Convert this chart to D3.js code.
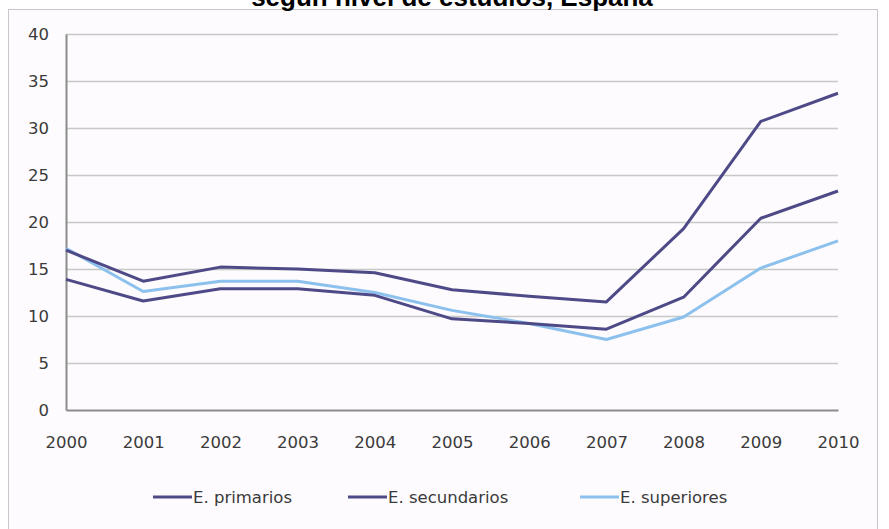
<!DOCTYPE html>
<html>
<head>
<meta charset="utf-8">
<script src="https://cdnjs.cloudflare.com/ajax/libs/d3/7.8.5/d3.min.js"></script>
<style>
  html, body { margin: 0; padding: 0; background: #ffffff; }
  svg { display: block; }
</style>
</head>
<body>
<svg id="chart" width="889" height="529"></svg>
<script>
// Tasa de paro según nivel de estudios, España (2000–2010)
const years = [2000, 2001, 2002, 2003, 2004, 2005, 2006, 2007, 2008, 2009, 2010];
const primarios   = [17.0, 13.7, 15.2, 15.0, 14.6, 12.8, 12.1, 11.5, 19.3, 30.7, 33.7];
const secundarios = [13.9, 11.6, 12.9, 12.9, 12.2, 9.7, 9.2, 8.6, 12.0, 20.4, 23.3];
const superiores  = [17.2, 12.6, 13.7, 13.7, 12.5, 10.6, 9.2, 7.5, 9.9, 15.1, 18.0];
const yTicks = [0, 5, 10, 15, 20, 25, 30, 35, 40];
const seriesNames = ["E. primarios", "E. secundarios", "E. superiores"];
const seriesColors = ["#4e4a87", "#4e4a87", "#8cc1ee"];
const titleText = "según nivel de estudios, España";

const series = [primarios, secundarios, superiores].map((vals, i) => ({
  name: seriesNames[i],
  color: seriesColors[i],
  values: vals.map((v, j) => ({ year: years[j], value: v }))
}));

const svg = d3.select("#chart");
const plot = { left: 66, right: 838, top: 34, bottom: 410 };

// chart frame
svg.append("rect")
  .attr("x", 8.5).attr("y", 9.5)
  .attr("width", 869).attr("height", 530)
  .attr("fill", "#fdfbfd")
  .attr("stroke", "#c9c7c9").attr("stroke-width", 1);

// title (runs off the top edge of the frame area)
svg.append("text")
  .attr("x", 452).attr("y", 6)
  .attr("text-anchor", "middle")
  .attr("font-family", "'Liberation Sans', Arial, sans-serif")
  .attr("font-weight", "bold")
  .attr("font-size", 26)
  .attr("fill", "#000")
  .text(titleText);

const x = d3.scalePoint().domain(years).range([plot.left, plot.right]);
const y = d3.scaleLinear().domain([0, 40]).range([plot.bottom, plot.top]);

// horizontal gridlines
svg.append("g")
  .selectAll("line")
  .data(yTicks.filter(t => t > 0))
  .join("line")
  .attr("x1", plot.left).attr("x2", plot.right)
  .attr("y1", d => y(d) + 0.5).attr("y2", d => y(d) + 0.5)
  .attr("stroke", "#c8c8c8").attr("stroke-width", 1.5);

const tickFont = "'DejaVu Sans', Verdana, sans-serif";

// y axis
const yAxis = svg.append("g")
  .attr("transform", `translate(${plot.left},0)`)
  .call(d3.axisLeft(y).tickValues(yTicks).tickSize(0).tickPadding(17));
yAxis.select(".domain").attr("stroke", "#8c8c8c").attr("stroke-width", 2);
yAxis.selectAll("text")
  .attr("font-family", tickFont).attr("font-size", 16.5).attr("fill", "#3a3a3a");

// x axis
const xAxis = svg.append("g")
  .attr("transform", `translate(0,${plot.bottom})`)
  .call(d3.axisBottom(x).tickSize(0).tickPadding(26).tickFormat(d3.format("d")));
xAxis.select(".domain").attr("stroke", "#8c8c8c").attr("stroke-width", 2);
xAxis.selectAll("text")
  .attr("font-family", tickFont).attr("font-size", 16.5).attr("fill", "#3a3a3a");

// series lines
const line = d3.line().x(d => x(d.year)).y(d => y(d.value));
svg.append("g")
  .selectAll("path")
  .data(series.slice().reverse())
  .join("path")
  .attr("d", d => line(d.values))
  .attr("fill", "none")
  .attr("stroke", d => d.color)
  .attr("stroke-width", 3)
  .attr("stroke-linejoin", "round");

// legend
const legendX = [153, 348, 580];
const legend = svg.append("g").attr("transform", "translate(0,497)");
const items = legend.selectAll("g").data(series).join("g")
  .attr("transform", (d, i) => `translate(${legendX[i]},0)`);
items.append("line")
  .attr("x1", 0).attr("x2", 39).attr("y1", 0).attr("y2", 0)
  .attr("stroke", d => d.color).attr("stroke-width", 3);
items.append("text")
  .attr("x", 40).attr("y", 0).attr("dy", "0.35em")
  .attr("font-family", tickFont).attr("font-size", 16.5).attr("fill", "#3a3a3a")
  .text(d => d.name);
</script>
</body>
</html>
